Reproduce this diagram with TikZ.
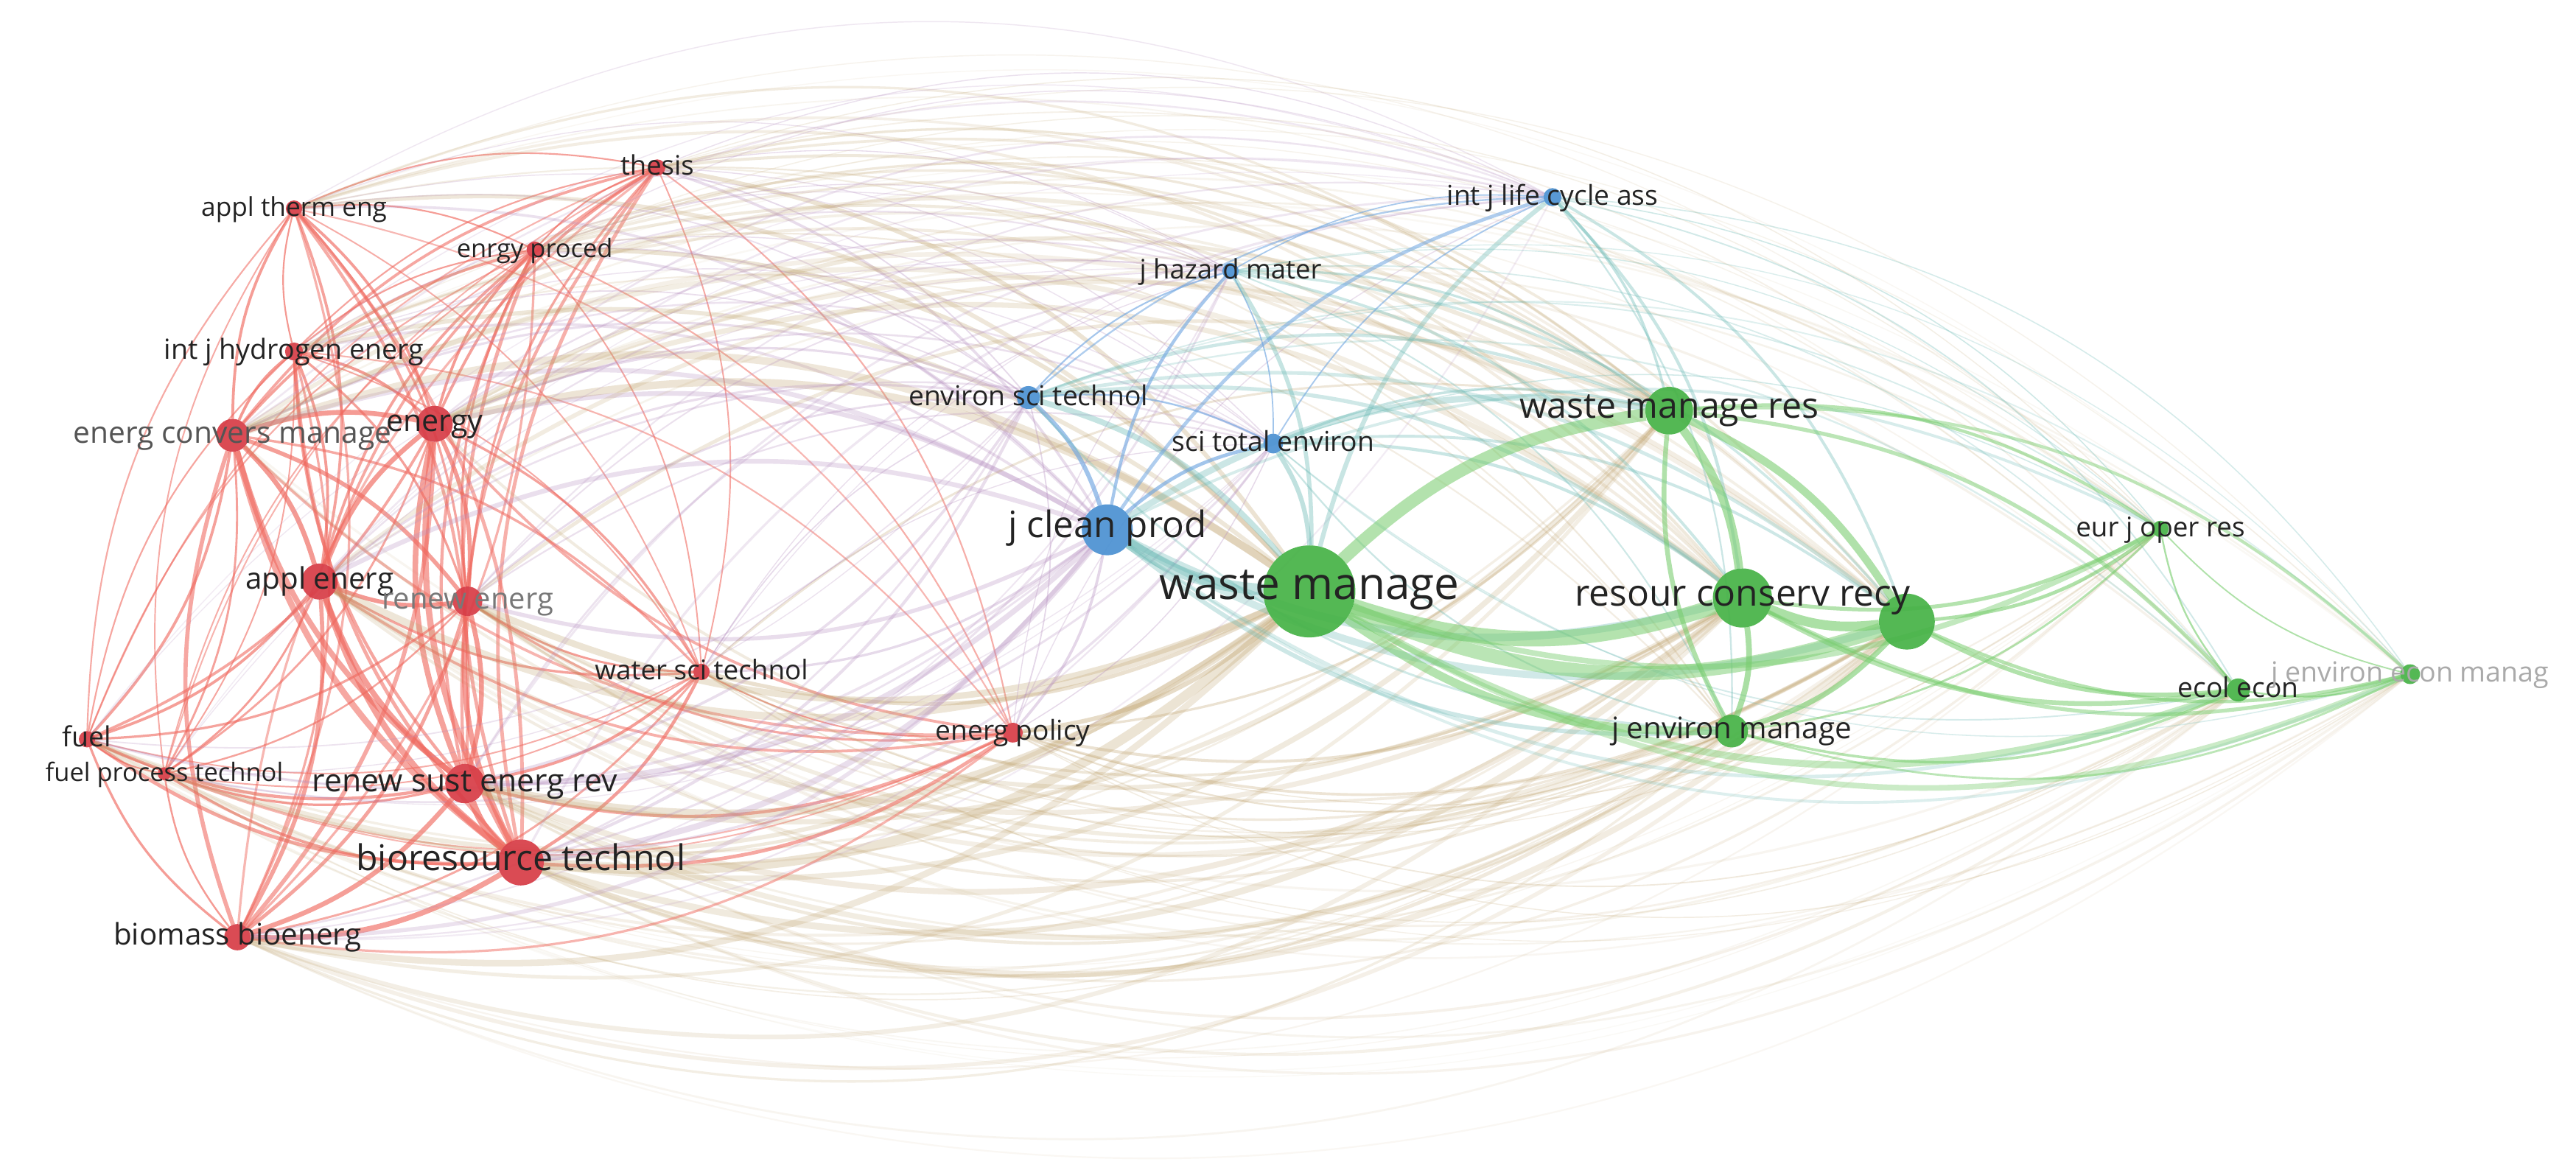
\documentclass[tikz,border=0pt]{standalone}
\usepackage{fontspec}
\setmainfont{Open Sans}
\pgfdeclarelayer{bg}
\pgfdeclarelayer{edges}
\pgfdeclarelayer{fg}
\pgfsetlayers{bg,edges,main,fg}
% node colours
\definecolor{nr}{RGB}{215,60,70}
\definecolor{ng}{RGB}{70,178,70}
\definecolor{nb}{RGB}{75,145,210}
% edge colours (mix of the two end clusters)
\definecolor{err}{RGB}{240,105,95}
\definecolor{egg}{RGB}{120,205,110}
\definecolor{ebb}{RGB}{110,165,225}
\definecolor{erg}{RGB}{190,160,105}
\definecolor{egr}{RGB}{190,160,105}
\definecolor{erb}{RGB}{180,140,190}
\definecolor{ebr}{RGB}{180,140,190}
\definecolor{egb}{RGB}{105,185,180}
\definecolor{ebg}{RGB}{105,185,180}
% opacity / width factors per cluster pair
\def\ofrr{1.3}\def\ofgg{1.2}\def\ofbb{1.25}
\def\ofrg{0.75}\def\ofgr{0.75}\def\ofrb{0.7}\def\ofbr{0.7}
\def\ofgb{0.8}\def\ofbg{0.8}
\def\wfrr{1.25}\def\wfgg{1.1}\def\wfbb{1.1}
\def\wfrg{0.85}\def\wfgr{0.85}\def\wfrb{0.85}\def\wfbr{0.85}
\def\wfgb{0.9}\def\wfbg{0.9}
% label colours
\definecolor{lbk}{RGB}{35,35,35}
\definecolor{lga}{RGB}{85,85,85}
\definecolor{lgb}{RGB}{120,120,120}
\definecolor{lgc}{RGB}{170,170,170}
\def\nodelist{%
thesis/400/102/5/2/r,
appltherm/179/127/5/2/r,
enrgyproced/325.5/152/5/2/r,
inthydro/179/214/5.5/2/r,
energconv/141.6/265/10/3.5/r,
energy/264.6/258/11/3.5/r,
applenerg/194.5/354/11/3.5/r,
renewenerg/284.6/366/9/3/r,
watersci/427/409/5/1.8/r,
fuel/53/450/5/2/r,
fuelproc/100/471/4/1.5/r,
renewsust/283/477/12/4/r,
biores/317/525/14/4.5/r,
biomass/144.5/570.5/8/3/r,
energpol/616.5/446/6/2/r,
envsci/626/242/7/2.5/b,
jhazard/749/165/5/1.8/b,
scitotal/775/270/6/2/b,
jclean/674/322.5/15.5/5/b,
intjlife/945/120/5.5/2/b,
wm/797/360/28/8/g,
wmres/1016/250/14.5/4.5/g,
resour/1060.6/364/18/5.5/g,
unl/1160.7/378.4/17/5/g,
eurjoper/1315/322/5/2/g,
ecolecon/1362.4/420/7/2.5/g,
jenvecon/1467/410.4/6/2/g,
jenvman/1054/445/10/3/g}
\tikzset{
  jnode/.style={circle, inner sep=0pt, outer sep=0pt, draw=none},
  jlabel/.style={anchor=mid, inner sep=0pt},
}
\begin{document}
\begin{tikzpicture}[x=0.2mm,y=-0.2mm]
\begin{pgfonlayer}{bg}
\fill[white] (0,0) rectangle (1568,712);
\end{pgfonlayer}
\useasboundingbox (0,0) rectangle (1568,712);
% nodes
\foreach \na/\xa/\ya/\ra/\wa/\ca in \nodelist {
  \node[jnode, minimum size=\ra*0.4mm, fill=n\ca, fill opacity=0.92] (\na) at (\xa,\ya) {};
}
% edges
\begin{pgfonlayer}{edges}
\foreach [count=\i] \na/\xa/\ya/\ra/\wa/\ca in \nodelist {
  \foreach [count=\j] \nb/\xb/\yb/\rb/\wb/\cb in \nodelist {
    \ifnum\j>\i\relax
      \edef\of{\csname of\ca\cb\endcsname}
      \edef\wf{\csname wf\ca\cb\endcsname}
      \pgfmathsetmacro\dd{veclen(\xb-\xa,\yb-\ya)}
      \pgfmathsetmacro\op{min(0.75,\of*max(0.07,0.55-0.34*\dd/1000))}
      \pgfmathsetmacro\lw{\wf*max(0.4,0.11*\wa*\wb)}
      \pgfmathsetmacro\bnd{(12+20*min(1,\dd/900))*ifthenelse((\ya+\yb)/2<340,1,-1)*ifthenelse(\xa<\xb,1,-1)}
      \draw[line width=\lw pt, draw=e\ca\cb, draw opacity=\op] (\na) to[bend left=\bnd] (\nb);
    \fi
  }
}
\end{pgfonlayer}
% labels
\begin{pgfonlayer}{fg}
\foreach \n/\s/\c/\t in {
thesis/9.3/lbk/thesis,
appltherm/9/lbk/appl therm eng,
enrgyproced/8.8/lbk/enrgy proced,
inthydro/9.6/lbk/int j hydrogen energ,
energconv/10.4/lga/energ convers manage,
energy/10.5/lbk/energy,
applenerg/10.3/lbk/appl energ,
renewenerg/10.2/lgb/renew energ,
watersci/9.4/lbk/water sci technol,
fuel/9.6/lbk/fuel,
fuelproc/8.8/lbk/fuel process technol,
renewsust/10.9/lbk/renew sust energ rev,
biores/12.3/lbk/bioresource technol,
biomass/10.3/lbk/biomass bioenerg,
energpol/9.5/lbk/energ policy,
envsci/9.5/lbk/environ sci technol,
jhazard/9.3/lbk/j hazard mater,
scitotal/9.5/lbk/sci total environ,
jclean/12.6/lbk/j clean prod,
intjlife/9.5/lbk/int j life cycle ass,
wm/15.4/lbk/waste manage,
wmres/12.3/lbk/waste manage res,
resour/12.7/lbk/resour conserv recy,
eurjoper/9.4/lbk/eur j oper res,
ecolecon/9.5/lbk/ecol econ,
jenvecon/9.6/lgc/j environ econ manag,
jenvman/10.3/lbk/j environ manage} {
  \node[jlabel, text=\c, font=\fontsize{\s}{\s}\selectfont] (l\n) at (\n) {\t};
}
\end{pgfonlayer}
\end{tikzpicture}
\end{document}
